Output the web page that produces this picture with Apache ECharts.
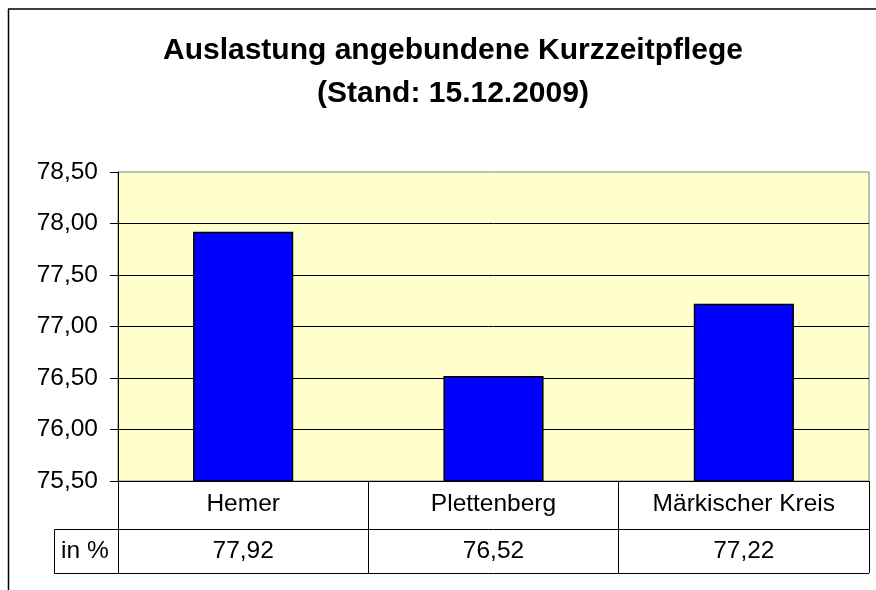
<!DOCTYPE html>
<html>
<head>
<meta charset="utf-8">
<script src="https://cdn.jsdelivr.net/npm/echarts@6/dist/echarts.min.js"></script>
<style>
  html, body { margin: 0; padding: 0; background: #fff; }
  #chart { width: 876px; height: 590px; }
</style>
</head>
<body>
<div id="chart"></div>
<script>
// Daten
var categories = ['Hemer', 'Plettenberg', 'Märkischer Kreis']
var values = [77.92, 76.52, 77.22]
var rowLabel = 'in %'
var titleLines = ['Auslastung angebundene Kurzzeitpflege', '(Stand: 15.12.2009)']

function deNum (v) {
  return v.toFixed(2).replace('.', ',')
}

var myChart = echarts.init(document.getElementById('chart'))
var font = 'Liberation Sans, Arial, sans-serif'

var option = {
  animation: false,
  backgroundColor: '#fff',
  title: {
    text: titleLines.join('\n'),
    left: 448,
    top: 24,
    textAlign: 'center',
    textStyle: {
      fontFamily: font,
      fontSize: 30,
      fontWeight: 'bold',
      lineHeight: 43,
      color: '#000'
    }
  },
  grid: {
    left: 118,
    right: 7,
    top: 172,
    bottom: 109,
    show: true,
    backgroundColor: '#ffffcc',
    borderColor: '#808080',
    borderWidth: 1
  },
  xAxis: [{
    type: 'category',
    data: categories,
    position: 'bottom',
    axisLine: { lineStyle: { color: '#000', width: 1 } },
    axisTick: { show: true, alignWithLabel: false, length: 48, lineStyle: { color: '#000' } },
    axisLabel: { margin: 11, fontFamily: font, fontSize: 24.5, color: '#000' }
  }, {
    type: 'category',
    data: values.map(deNum),
    position: 'bottom',
    offset: 48,
    axisLine: { lineStyle: { color: '#000', width: 1 } },
    axisTick: { show: true, alignWithLabel: false, length: 44, lineStyle: { color: '#000' } },
    axisLabel: { margin: 10, fontFamily: font, fontSize: 24.5, color: '#000' }
  }],
  yAxis: {
    type: 'value',
    min: 75.5,
    max: 78.5,
    interval: 0.5,
    axisLine: { show: true, lineStyle: { color: '#000', width: 1 } },
    axisTick: { show: true, length: 8, lineStyle: { color: '#000' } },
    axisLabel: {
      margin: 20,
      fontFamily: font,
      fontSize: 24.5,
      color: '#000',
      formatter: function (v) { return deNum(v) }
    },
    splitLine: { show: true, showMaxLine: false, lineStyle: { color: '#000', width: 1 } }
  },
  series: [{
    type: 'bar',
    data: values,
    barWidth: '40%',
    itemStyle: { color: '#0000ff', borderColor: '#000', borderWidth: 1.5 }
  }],
  graphic: [
    // Rahmen
    { type: 'line', shape: { x1: 8, y1: 9, x2: 876, y2: 9 }, style: { stroke: '#000', lineWidth: 1.5 } },
    { type: 'line', shape: { x1: 8.5, y1: 9, x2: 8.5, y2: 590 }, style: { stroke: '#000', lineWidth: 1.5 } },
    // Datentabelle
    { type: 'rect', shape: { x: 54.5, y: 529.5, width: 64, height: 44 }, style: { fill: 'none', stroke: '#000', lineWidth: 1 } },
    { type: 'line', shape: { x1: 118, y1: 573.5, x2: 869, y2: 573.5 }, style: { stroke: '#000', lineWidth: 1 } },
    { type: 'text', x: 61, y: 551, style: { text: rowLabel, font: '24.5px ' + font, fill: '#000', verticalAlign: 'middle' } }
  ]
}
myChart.setOption(option)
</script>
</body>
</html>
